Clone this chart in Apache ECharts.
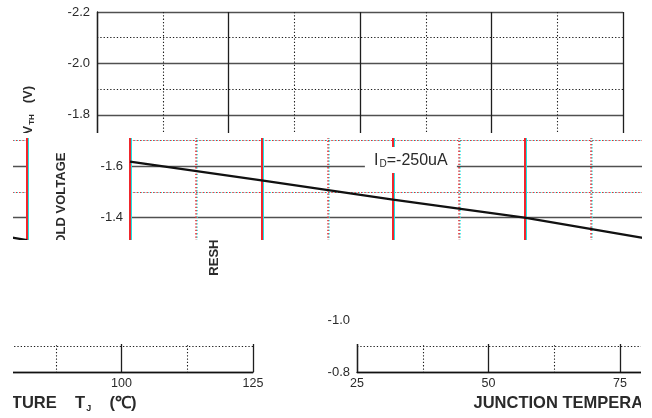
<!DOCTYPE html>
<html><head><meta charset="utf-8">
<script src="https://cdn.jsdelivr.net/npm/echarts@6/dist/echarts.min.js"></script>
<style>
html,body{margin:0;padding:0;background:#fff;}
#root{position:relative;width:652px;height:418px;overflow:hidden;background:#fff;}
.clip{position:absolute;overflow:hidden;}
.inner{position:absolute;width:660px;height:418px;}
</style>
</head><body><div id="root"></div>
<script>
// ---- data ----
const temperatures = [25, 50, 75, 100, 125];               // Tj (°C)
const thresholdVoltage = [-1.618, -1.545, -1.470, -1.400, -1.313]; // Vth (V)
const xTickValues = [25, 50, 75, 100, 125];
const yTickValues = [-2.2, -2.0, -1.8, -1.6, -1.4, -1.2, -1.0, -0.8];
const annotationText = '{n|I}{s|D}{n|=-250uA}';
const annotationCoord = [78.4, -1.624];
const xTitle = '{n|JUNCTION TEMPERATURE    T}{s|J}{n|    (℃)}';
const yTitle = '{n|THRESHOLD VOLTAGE     V}{s|TH}{n|   (V)}';

const FONT = '"Liberation Sans", Arial, sans-serif';
const TXT = '#2a2a2a';

function makeOption(aberr) {
  const RED = '#f0262c', CYAN = '#1fe3e3';
  const fringe = aberr ? {shadowColor: CYAN, shadowOffsetX: 1, shadowBlur: 0} : {};
  const vCol = aberr ? RED : '#1e1e1e';
  const hDot = aberr ? RED : '#1e1e1e';
  return {
    animation: false,
    backgroundColor: 'transparent',
    grid: {left: 97, top: 12, width: 526, height: 360, containLabel: false, outerBoundsMode: 'none'},
    xAxis: {
      type: 'value',
      min: xTickValues[0], max: xTickValues[xTickValues.length - 1],
      interval: xTickValues[1] - xTickValues[0],
      axisLine: {show: true, onZero: false, lineStyle: {color: '#111', width: 1.4}},
      axisTick: {show: false},
      axisLabel: {show: true, color: TXT, fontSize: 12.5, fontFamily: FONT, margin: 5},
      splitLine: {show: true, lineStyle: Object.assign({color: vCol, width: aberr ? 2 : 1.3}, fringe)},
      minorTick: {show: false, splitNumber: 2},
      minorSplitLine: {show: true, lineStyle: Object.assign({color: vCol, width: aberr ? 1.5 : 1.1, type: [1.3, 2]}, fringe)},
      name: xTitle,
      nameLocation: 'middle',
      nameGap: 22,
      nameTextStyle: {
        color: TXT, fontFamily: FONT, fontSize: 16.5, fontWeight: 'bold',
        rich: {
          n: {color: TXT, fontFamily: FONT, fontSize: 16.5, fontWeight: 'bold'},
          s: {color: TXT, fontFamily: FONT, fontSize: 9, fontWeight: 'bold', padding: [10, 0, 0, 1]}
        }
      }
    },
    yAxis: {
      type: 'value',
      inverse: true,
      min: yTickValues[0], max: yTickValues[yTickValues.length - 1],
      interval: 0.2,
      axisLine: {show: true, onZero: false, lineStyle: Object.assign({color: aberr ? RED : '#1e1e1e', width: aberr ? 2 : 1.3}, fringe)},
      axisTick: {show: false},
      axisLabel: {show: true, color: TXT, fontSize: 13, fontFamily: FONT, margin: 7,
        formatter: v => Number(v).toFixed(1)},
      splitLine: {show: true, lineStyle: {color: '#505050', width: 1.3}},
      minorTick: {show: false, splitNumber: 2},
      minorSplitLine: {show: true, lineStyle: Object.assign({color: hDot, width: 1.1, type: [1.3, 2]}, fringe)},
      name: yTitle,
      nameLocation: 'middle',
      nameRotate: 90,
      nameGap: 61,
      nameTextStyle: {
        color: TXT, fontFamily: FONT, fontSize: 13, fontWeight: 'bold',
        rich: {
          n: {color: TXT, fontFamily: FONT, fontSize: 13, fontWeight: 'bold'},
          s: {color: TXT, fontFamily: FONT, fontSize: 8, fontWeight: 'bold', padding: [8, 0, 0, 1]}
        }
      }
    },
    series: [{
      type: 'line',
      data: temperatures.map((t, i) => [t, thresholdVoltage[i]]),
      symbol: 'none',
      lineStyle: {color: '#111', width: 2.3},
      z: 3,
      markPoint: {
        silent: true,
        symbol: 'rect',
        symbolSize: [92, 26],
        itemStyle: {color: '#fff'},
        label: {
          show: true, position: 'inside', formatter: annotationText,
          rich: {
            n: {color: TXT, fontFamily: FONT, fontSize: 16},
            s: {color: TXT, fontFamily: FONT, fontSize: 10, padding: [9, 0, 0, 1]}
          }
        },
        data: [{coord: annotationCoord}]
      }
    }]
  };
}

// pieces of the (glitched) picture: clip rectangle on the page and shift of the chart
const pieces = [
  {x: 13, y: 0,   w: 629, h: 133, dx: 0,         dy: 0,  aberr: false},
  {x: 33, y: 138, w: 609, h: 102, dx: 33,        dy: 0,  aberr: true},
  {x: 13, y: 138, w: 20,  h: 102, dx: 33 - 629,  dy: 0,  aberr: true},
  {x: 205, y: 240, w: 20, h: 36,  dx: 186,       dy: -5, aberr: false},
  {x: 318, y: 308, w: 36, h: 22,  dx: 260,       dy: 0,  aberr: false},
  {x: 268, y: 344, w: 373, h: 74, dx: 260,       dy: 0,  aberr: false},
  {x: 13, y: 344, w: 255, h: 74,  dx: 260 - 630, dy: 0,  aberr: false}
];

const root = document.getElementById('root');
pieces.forEach(p => {
  const clip = document.createElement('div');
  clip.className = 'clip';
  clip.style.left = p.x + 'px'; clip.style.top = p.y + 'px';
  clip.style.width = p.w + 'px'; clip.style.height = p.h + 'px';
  const inner = document.createElement('div');
  inner.className = 'inner';
  inner.style.left = (p.dx - p.x) + 'px';
  inner.style.top = (p.dy - p.y) + 'px';
  clip.appendChild(inner);
  root.appendChild(clip);
  const chart = echarts.init(inner, null, {renderer: 'canvas', width: 660, height: 418});
  chart.setOption(makeOption(p.aberr));
});
</script>
</body></html>
